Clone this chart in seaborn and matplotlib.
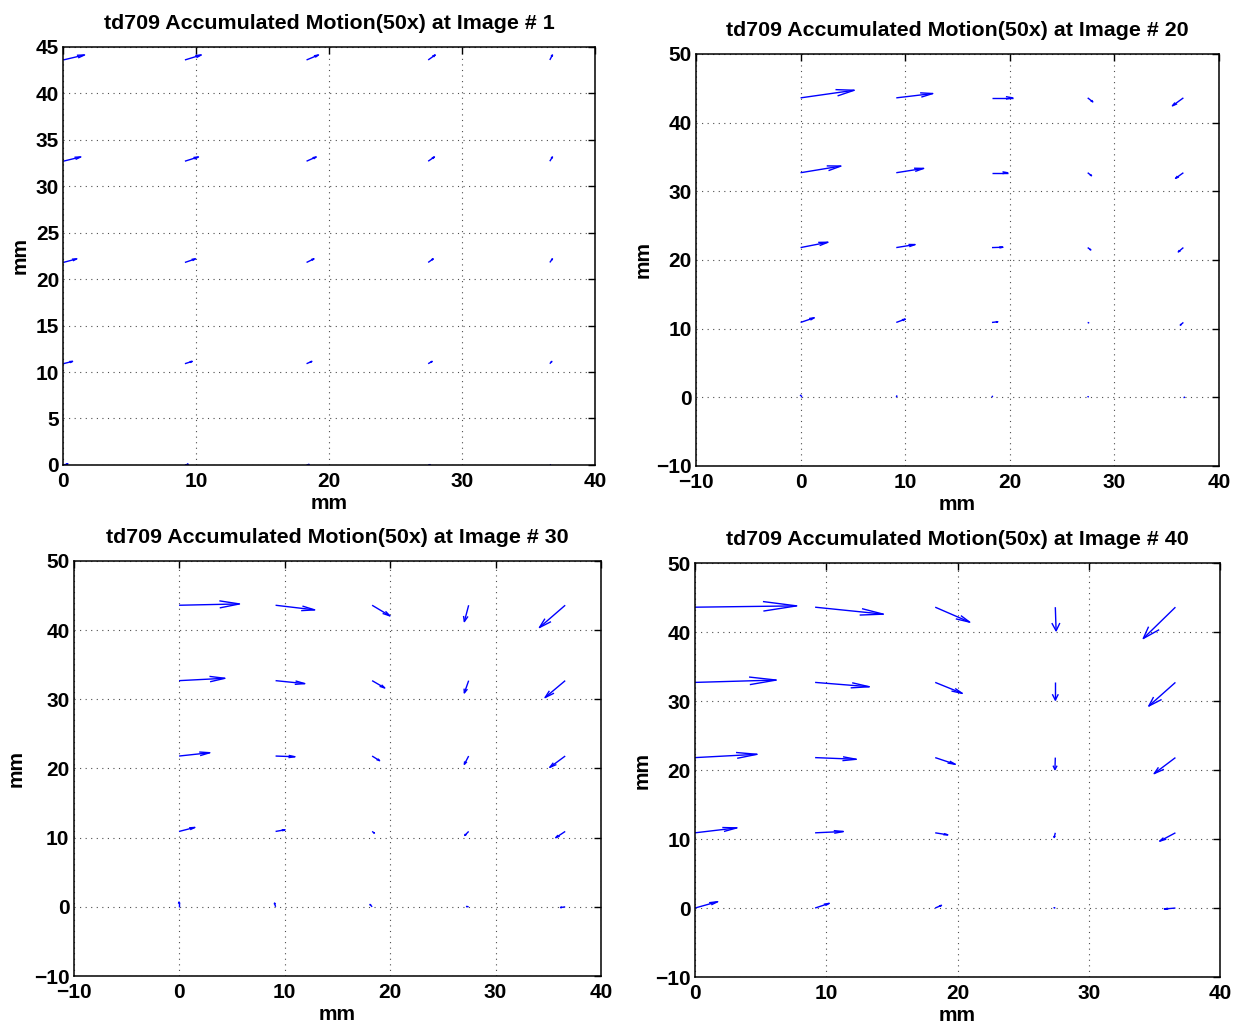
import numpy as np
import matplotlib
matplotlib.use("Agg")
import matplotlib.pyplot as plt
import seaborn as sns
from matplotlib.collections import LineCollection

# -------------------------------
# Data: measurement grid (mm) and accumulated motion (already scaled 50x)
# rows follow y_pos (bottom -> top), columns follow x_pos
# -------------------------------
x_pos = [0.0, 9.15, 18.3, 27.45, 36.6]
y_pos = [0.0, 10.9, 21.8, 32.7, 43.6]

image_numbers = [1, 20, 30, 40]

u_img1 = [[0.35, 0.25, 0.20, 0.15, 0.05],
          [0.70, 0.55, 0.40, 0.30, 0.15],
          [1.02, 0.80, 0.56, 0.38, 0.20],
          [1.32, 1.02, 0.73, 0.47, 0.20],
          [1.60, 1.23, 0.90, 0.53, 0.20]]
v_img1 = [[0.12, 0.08, 0.05, 0.03, 0.02],
          [0.25, 0.25, 0.25, 0.25, 0.25],
          [0.39, 0.39, 0.39, 0.39, 0.39],
          [0.46, 0.46, 0.46, 0.46, 0.46],
          [0.54, 0.54, 0.54, 0.54, 0.54]]

u_img20 = [[0.00, 0.05, 0.05, 0.05, 0.10],
           [1.31, 0.86, 0.56, 0.10, -0.30],
           [2.62, 1.80, 1.05, 0.30, -0.49],
           [3.86, 2.62, 1.50, 0.37, -0.75],
           [5.13, 3.49, 1.99, 0.49, -1.05]]
v_img20 = [[0.30, 0.20, 0.15, 0.10, 0.00],
           [0.68, 0.48, 0.10, -0.05, -0.39],
           [0.78, 0.44, 0.05, -0.34, -0.63],
           [0.97, 0.63, 0.00, -0.44, -0.82],
           [1.11, 0.63, 0.00, -0.58, -1.16]]

u_img30 = [[0.00, -0.10, -0.20, -0.20, -0.45],
           [1.50, 0.90, 0.22, -0.37, -0.90],
           [2.92, 1.84, 0.71, -0.41, -1.46],
           [4.35, 2.77, 1.20, -0.41, -1.91],
           [5.73, 3.71, 1.69, -0.41, -2.44]]
v_img30 = [[0.70, 0.55, 0.35, 0.05, -0.10],
           [0.58, 0.24, -0.24, -0.58, -0.91],
           [0.48, -0.10, -0.67, -1.20, -1.64],
           [0.34, -0.43, -1.06, -1.78, -2.45],
           [0.19, -0.67, -1.54, -2.36, -3.22]]

u_img40 = [[1.73, 1.08, 0.48, -0.10, -0.84],
           [3.20, 2.15, 0.96, -0.09, -1.20],
           [4.73, 3.14, 1.53, -0.03, -1.62],
           [6.19, 4.13, 2.06, 0.00, -2.03],
           [7.75, 5.20, 2.63, 0.06, -2.45]]
v_img40 = [[0.92, 0.68, 0.39, 0.05, -0.14],
           [0.72, 0.19, -0.29, -0.68, -1.21],
           [0.48, -0.24, -0.97, -1.74, -2.32],
           [0.34, -0.63, -1.59, -2.56, -3.43],
           [0.19, -1.01, -2.17, -3.43, -4.54]]

# axis limits / ticks per panel
xlims = [(0, 40), (-10, 40), (-10, 40), (0, 40)]
ylims = [(0, 45), (-10, 50), (-10, 50), (-10, 50)]
yticks_step = [5, 10, 10, 10]

# -------------------------------
# Style
# -------------------------------
sns.set_style("white")
plt.rcParams['font.family'] = ['Liberation Sans', 'DejaVu Sans']
plt.rcParams['font.weight'] = 'bold'
plt.rcParams['axes.titleweight'] = 'bold'
plt.rcParams['axes.labelweight'] = 'bold'
plt.rcParams['text.color'] = 'black'
plt.rcParams['axes.labelcolor'] = 'black'
plt.rcParams['axes.titlecolor'] = 'black'


def matlab_quiver(ax, u, v, alpha=0.33, beta=0.27):
    # line-style arrows like MATLAB's quiver (head built in data units)
    X, Y = np.meshgrid(x_pos, y_pos)
    U = np.asarray(u, dtype=float)
    V = np.asarray(v, dtype=float)
    segs = []
    for x, y, du, dv in zip(X.ravel(), Y.ravel(), U.ravel(), V.ravel()):
        tx, ty = x + du, y + dv
        segs.append([(x, y), (tx, ty)])
        segs.append([(tx - alpha * (du + beta * dv), ty - alpha * (dv - beta * du)),
                     (tx, ty),
                     (tx - alpha * (du - beta * dv), ty - alpha * (dv + beta * du))])
    ax.add_collection(LineCollection(segs, colors='#0000ff', linewidths=1.0))


fig = plt.figure(figsize=(12.36, 10.25), dpi=100)

# axes boxes in figure fractions
boxes = [[0.0512, 0.5464, 0.4302, 0.4078],
         [0.5631, 0.5454, 0.4231, 0.4020],
         [0.0595, 0.0478, 0.4268, 0.4049],
         [0.5623, 0.0468, 0.4248, 0.4039]]

all_u = [u_img1, u_img20, u_img30, u_img40]
all_v = [v_img1, v_img20, v_img30, v_img40]
ylab_x = [-0.063, -0.083, -0.090, -0.083]
xlab_y = [-0.070, -0.071, -0.071, -0.071]

for i in range(4):
    ax = fig.add_axes(boxes[i])
    matlab_quiver(ax, all_u[i], all_v[i])

    ax.set_xlim(*xlims[i])
    ax.set_ylim(*ylims[i])
    ax.set_xticks(np.arange(xlims[i][0], xlims[i][1] + 1, 10))
    ax.set_yticks(np.arange(ylims[i][0], ylims[i][1] + 1, yticks_step[i]))

    ax.grid(True, color='0.3', linestyle=(0, (1, 4)), linewidth=0.8)
    ax.tick_params(direction='in', length=5, width=1, top=True, right=True,
                   labelsize=15, colors='black')
    ax.tick_params(axis='x', pad=5)
    ax.tick_params(axis='y', pad=3)
    for s in ax.spines.values():
        s.set_color('black')
        s.set_linewidth(1.1)

    ax.set_title("td709 Accumulated Motion(50x) at Image # %d" % image_numbers[i],
                 fontsize=15.4, fontweight='bold', pad=13)
    ax.set_xlabel("mm", fontsize=15, fontweight='bold')
    ax.set_ylabel("mm", fontsize=15, fontweight='bold')
    ax.xaxis.set_label_coords(0.5, xlab_y[i])
    ax.yaxis.set_label_coords(ylab_x[i], 0.5)

fig.savefig("out.png", dpi=100)
